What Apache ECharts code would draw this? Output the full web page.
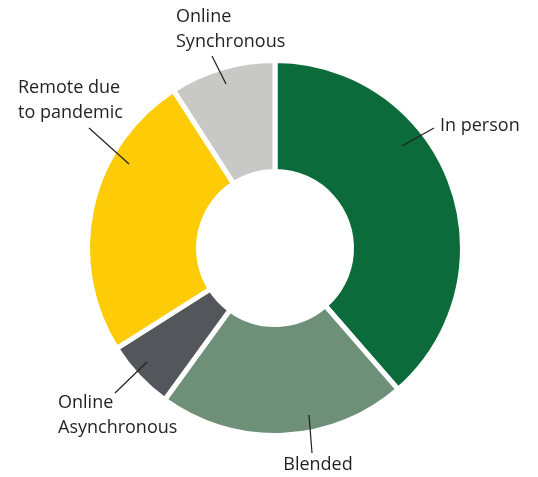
<!DOCTYPE html>
<html>
<head>
<meta charset="utf-8">
<style>
  html, body { margin: 0; padding: 0; background: #fff; }
  #chart { width: 538px; height: 477px; }
</style>
<script src="https://cdn.jsdelivr.net/npm/echarts@6/dist/echarts.min.js"></script>
</head>
<body>
<div id="chart"></div>
<script>
// slices, clockwise from 12 o'clock
const categories = ['In person', 'Blended', 'Online\nAsynchronous', 'Remote due\nto pandemic', 'Online\nSynchronous'];
const shares = [38.6, 21.4, 6.0, 24.9, 9.1];
const colors = ['#0b6b3a', '#6e8f78', '#53565a', '#fecc07', '#c8c8c6'];

// label placement: [x, y, align] and leader line [start, end]
const labelSpots = [
    { x: 440, y: 126, align: 'left', line: [[402, 146], [434, 128]] },
    { x: 318, y: 465, align: 'center', line: [[309, 415], [312, 453]] },
    { x: 58, y: 415, align: 'left', line: [[147, 362], [115, 393]] },
    { x: 18, y: 100, align: 'left', line: [[129, 164], [89, 128]] },
    { x: 176, y: 29, align: 'left', line: [[226, 84], [212, 56]] }
];

const myEcharts = echarts.init(document.getElementById('chart'));
const pieBase = {
    type: 'pie',
    center: [275, 248],
    radius: [76.5, 187.5],
    startAngle: 90,
    clockwise: true,
    avoidLabelOverlap: false,
    emphasis: { disabled: true }
};
const option = {
    animation: false,
    series: [
        // the coloured ring
        Object.assign({}, pieBase, {
            z: 2,
            itemStyle: {
                borderColor: '#ffffff',
                borderWidth: 5
            },
            label: { show: false },
            labelLine: { show: false },
            data: categories.map((name, i) => ({
                name: name,
                value: shares[i],
                itemStyle: { color: colors[i] }
            }))
        }),
        // same ring, invisible, only to put the labels and leader lines on top
        Object.assign({}, pieBase, {
            z: 5,
            silent: true,
            itemStyle: {
                color: 'rgba(0,0,0,0)',
                borderWidth: 0
            },
            label: {
                show: true,
                position: 'outside',
                color: '#231f20',
                fontFamily: 'Open Sans',
                fontSize: 18,
                lineHeight: 25
            },
            labelLine: {
                show: true,
                lineStyle: {
                    color: '#231f20',
                    width: 1.2
                }
            },
            labelLayout: function (params) {
                const s = labelSpots[params.dataIndex];
                return {
                    x: s.x,
                    y: s.y,
                    align: s.align,
                    verticalAlign: 'middle',
                    labelLinePoints: [s.line[0], s.line[1], s.line[1]]
                };
            },
            data: categories.map((name, i) => ({
                name: name,
                value: shares[i]
            }))
        })
    ]
};
myEcharts.setOption(option);
</script>
</body>
</html>
